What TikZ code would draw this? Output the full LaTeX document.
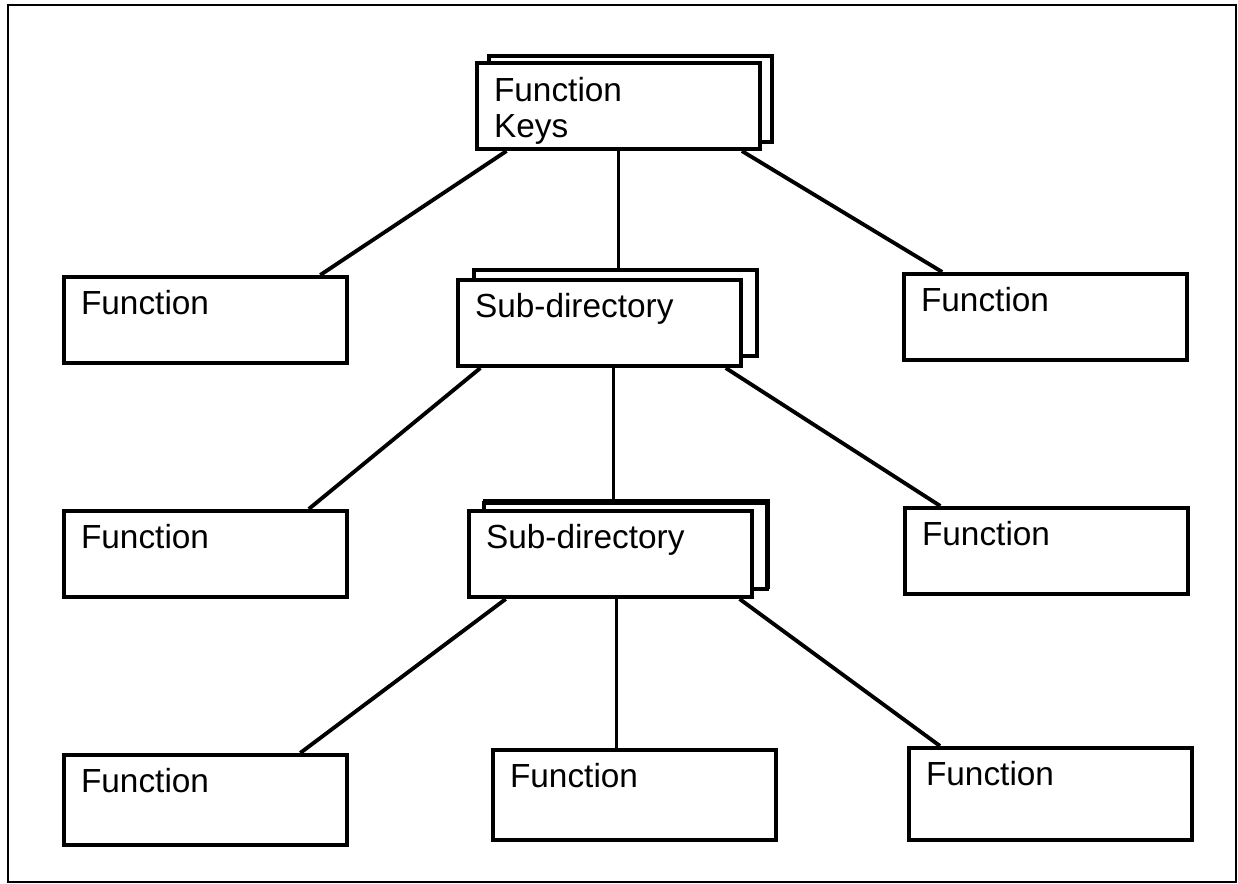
\documentclass[tikz,border=0pt]{standalone}
\usepackage{fontspec}
\setmainfont{Liberation Sans}
\usetikzlibrary{calc,shadows,backgrounds}

\begin{document}
\begin{tikzpicture}[x=0.02cm,y=-0.02cm,
font=\fontsize{19pt}{20.5pt}\selectfont
]
    \tikzstyle{fn box}=[draw,line width=2.3pt,fill=white,anchor=north west,align=left,
        text width=4.98cm,inner xsep=0.34cm,inner ysep=0pt,text height=0.74cm,text depth=0.98cm]
    \tikzstyle{dir box}=[fn box,copy shadow={shadow xshift=0.32cm,shadow yshift=0.2cm}]
    \tikzstyle{link}=[line width=2.2pt]
    \tikzstyle{stem}=[line width=1.8pt]

    \useasboundingbox (0,0) rectangle (1238,884);
    \draw[line width=1.1pt] (8,5) rectangle (1236,882);

    % top of the tree
    \node(keys)[fn box,copy shadow={shadow xshift=0.24cm,shadow yshift=0.14cm},
        text height=0.76cm,text depth=0.96cm] at (475,61) {Function\\Keys};
    % first level
    \node(fnA)[fn box] at (62,275) {Function};
    \node(sub1)[dir box] at (456,278) {Sub-directory};
    \node(fnB)[fn box] at (902,272) {Function};
    % second level
    \node(fnC)[fn box] at (62,509) {Function};
    \node(sub2)[dir box,copy shadow={shadow xshift=0.3cm,shadow yshift=0.16cm}] at (467,509) {Sub-directory};
    \node(fnD)[fn box] at (903,506) {Function};
    % third level
    \node(fnE)[fn box,text depth=1.06cm] at (62,753) {Function};
    \node(fnF)[fn box,text depth=1.06cm] at (491,748) {Function};
    \node(fnG)[fn box,text depth=1.1cm] at (907,746) {Function};

    % branches
    \begin{scope}[on background layer]
    \draw[link]($(keys.south west)!.11!(keys.south east)$)--($(fnA.north west)!.9!(fnA.north east)$);
    \draw[stem](keys.south)--(keys.south |- sub1.north);
    \draw[link]($(keys.south west)!.93!(keys.south east)$)--($(fnB.north west)!.14!(fnB.north east)$);

    \draw[link]($(sub1.south west)!.085!(sub1.south east)$)--($(fnC.north west)!.86!(fnC.north east)$);
    \draw[stem]($(sub1.south west)!.55!(sub1.south east)$)coordinate(s1)--(s1 |- sub2.north);
    \draw[link]($(sub1.south west)!.94!(sub1.south east)$)--($(fnD.north west)!.13!(fnD.north east)$);

    \draw[link]($(sub2.south west)!.135!(sub2.south east)$)--($(fnE.north west)!.83!(fnE.north east)$);
    \draw[stem]($(sub2.south west)!.52!(sub2.south east)$)coordinate(s2)--(s2 |- fnF.north);
    \draw[link]($(sub2.south west)!.95!(sub2.south east)$)--($(fnG.north west)!.115!(fnG.north east)$);
    \end{scope}
\end{tikzpicture}
\end{document}
